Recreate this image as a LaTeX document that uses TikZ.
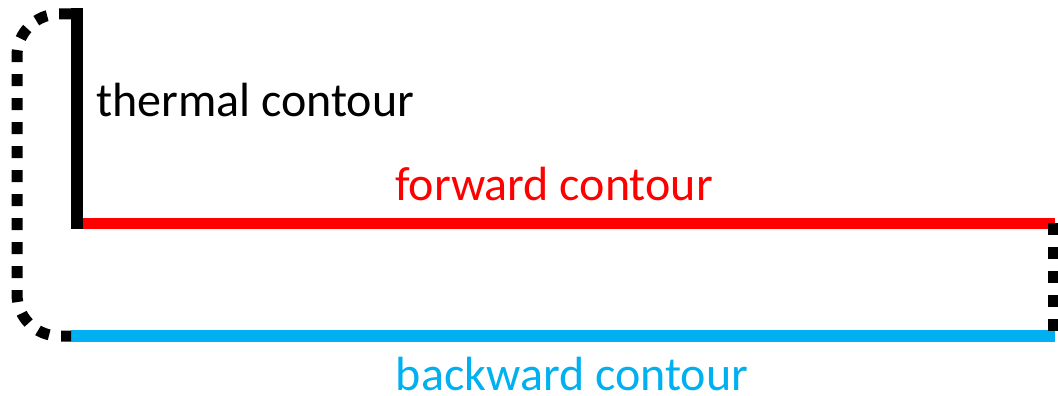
\documentclass[tikz,border=0pt]{standalone}
\usepackage{fontspec}
\setmainfont{Carlito}
\definecolor{fwdred}{RGB}{255,0,0}
\definecolor{bwdblue}{RGB}{0,176,240}
\begin{document}
\begin{tikzpicture}[x=1pt,y=-1pt,
  contour/.style={line width=11.5pt},
  periodic/.style={line width=11pt,dash pattern=on 12pt off 12pt},
  label/.style={font=\fontsize{48}{52}\selectfont,inner sep=0pt,text depth=0pt,anchor=base}]
\useasboundingbox (0,0) rectangle (1058,396);
% end points of the contour
\coordinate (tTop) at (77,8);
\coordinate (tBot) at (77,229);
\coordinate (fStart) at (83,223.5);
\coordinate (fEnd) at (1055,223.5);
\coordinate (bStart) at (71,336);
\coordinate (bEnd) at (1055,336);
\coordinate (pTop) at (71,14);
\coordinate (pLeft) at (17,100);
\coordinate (rTop) at (1053,223);
\coordinate (rBot) at (1053,342);
% branches of the contour
\draw[contour,fwdred] (fStart) -- (fEnd);
\draw[contour,bwdblue] (bStart) -- (bEnd);
\draw[contour,black] (tTop) -- (tBot);
% identification of the ends
\draw[periodic,rounded corners=42pt] (pTop) -| (pLeft) |- (bStart);
\draw[periodic] (rTop) -- (rBot);
% labels
\node[label,anchor=base west] (thermal) at (96,117) {thermal contour};
\node[label,text=fwdred] (forward) at (554,200) {forward contour};
\node[label,text=bwdblue] (backward) at (572,390) {backward contour};
\end{tikzpicture}
\end{document}
